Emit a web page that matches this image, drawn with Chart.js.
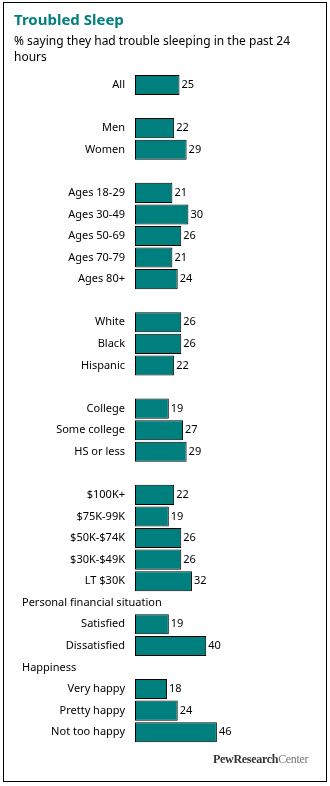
<!DOCTYPE html>
<html>
<head>
<meta charset="utf-8">
<script src="https://cdn.jsdelivr.net/npm/chart.js@4/dist/chart.umd.min.js"></script>
<style>
  html, body { margin: 0; padding: 0; background: #fff; }
  #wrap { position: relative; width: 330px; height: 786px; }
  #frame {
    position: absolute; left: 3px; top: 2px; width: 322px; height: 778px;
    border: 1px solid #000; pointer-events: none;
  }
  #logo {
    position: absolute; left: 213px; top: 752px;
    font-family: 'Liberation Serif', serif; font-size: 12px; letter-spacing: -0.3px;
  }
  #logo b { color: #333; font-weight: bold; }
  #logo span { color: #777; }
</style>
</head>
<body>
<div id="wrap">
  <canvas id="sleepChart" width="330" height="786"></canvas>
  <div id="frame"></div>
  <div id="logo"><b>PewResearch</b><span>Center</span></div>
</div>
<script>
// Rows top to bottom; '' rows are spacers, header rows carry no bar.
const categories = [
  'All', '',
  'Men', 'Women', '',
  'Ages 18-29', 'Ages 30-49', 'Ages 50-69', 'Ages 70-79', 'Ages 80+', '',
  'White', 'Black', 'Hispanic', '',
  'College', 'Some college', 'HS or less', '',
  '$100K+', '$75K-99K', '$50K-$74K', '$30K-$49K', 'LT $30K',
  'Personal financial situation',
  'Satisfied', 'Dissatisfied',
  'Happiness',
  'Very happy', 'Pretty happy', 'Not too happy',
];

const troubleSleeping = [
  25, null,
  22, 29, null,
  21, 30, 26, 21, 24, null,
  26, 26, 22, null,
  19, 27, 29, null,
  22, 19, 26, 26, 32,
  null,
  19, 40,
  null,
  18, 24, 46,
];

const groupHeaders = ['Personal financial situation', 'Happiness'];

const TEAL = '#007f7f';
const FONT = "'Noto Sans', sans-serif";

// Value labels just past the end of each bar.
const valueLabels = {
  id: 'valueLabels',
  afterDatasetsDraw(chart) {
    const ctx = chart.ctx;
    const meta = chart.getDatasetMeta(0);
    ctx.save();
    ctx.font = `11px ${FONT}`;
    ctx.fillStyle = '#000';
    ctx.textBaseline = 'middle';
    ctx.textAlign = 'left';
    meta.data.forEach((bar, i) => {
      const v = troubleSleeping[i];
      if (v == null) return;
      ctx.fillText(String(v), bar.x + 2, bar.y);
    });
    ctx.restore();
  },
};

// Left-aligned group headers sitting in their own category row.
const headerLabels = {
  id: 'headerLabels',
  afterDraw(chart) {
    const ctx = chart.ctx;
    const y = chart.scales.y;
    ctx.save();
    ctx.font = `11px ${FONT}`;
    ctx.fillStyle = '#000';
    ctx.textBaseline = 'middle';
    ctx.textAlign = 'left';
    categories.forEach((c, i) => {
      if (groupHeaders.includes(c)) ctx.fillText(c, 22, y.getPixelForValue(i));
    });
    ctx.restore();
  },
};

new Chart(document.getElementById('sleepChart').getContext('2d'), {
  type: 'bar',
  data: {
    labels: categories,
    datasets: [{
      data: troubleSleeping,
      backgroundColor: TEAL,
      borderColor: '#000',
      borderWidth: 1,
      borderSkipped: false,
      barPercentage: 0.93,
      categoryPercentage: 1,
    }],
  },
  options: {
    indexAxis: 'y',
    responsive: false,
    animation: false,
    layout: { padding: { left: 14, right: 17, top: 7, bottom: 43 } },
    scales: {
      x: { display: false, min: 0, max: 100 },
      y: {
        grid: { display: false, drawTicks: false },
        border: { display: false },
        ticks: {
          autoSkip: false,
          padding: 10,
          color: '#000',
          font: { family: FONT, size: 11 },
          callback(v) {
            const c = categories[v];
            return groupHeaders.includes(c) ? '' : c;
          },
        },
        afterFit(scale) { scale.width = 121; },
      },
    },
    plugins: {
      legend: { display: false },
      tooltip: { enabled: false },
      title: {
        display: true,
        align: 'start',
        text: 'Troubled Sleep',
        color: TEAL,
        font: { family: FONT, size: 15, weight: 'bold' },
        padding: { top: 5, bottom: 4 },
      },
      subtitle: {
        display: true,
        align: 'start',
        text: ['% saying they had trouble sleeping in the past 24', 'hours'],
        color: '#000',
        font: { family: FONT, size: 12, lineHeight: 1.3 },
        padding: { top: 0, bottom: 9 },
      },
    },
  },
  plugins: [valueLabels, headerLabels],
});
</script>
</body>
</html>
